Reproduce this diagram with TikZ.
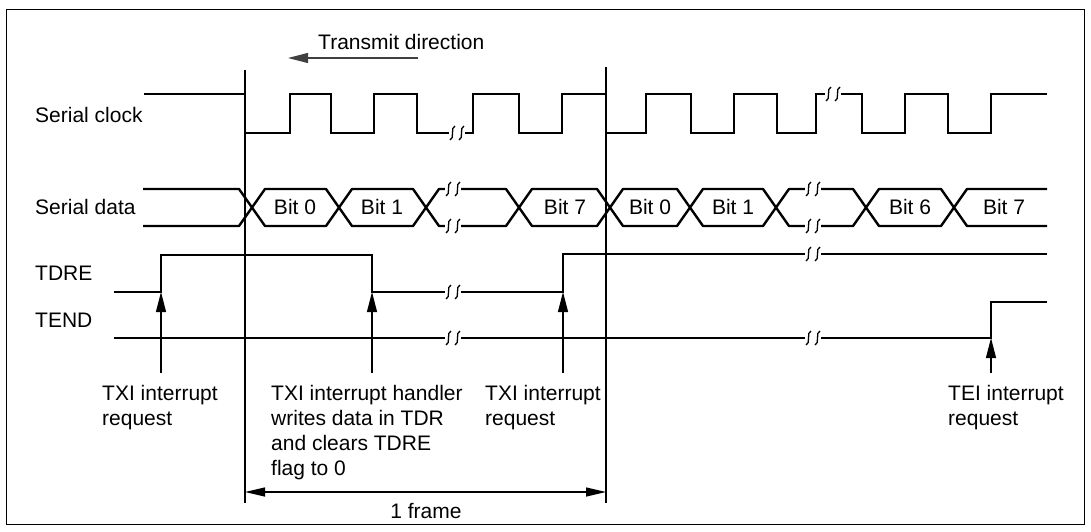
\documentclass[tikz,border=0pt]{standalone}
\usepackage{fontspec}
\setmainfont{Liberation Sans}
\usetikzlibrary{arrows.meta}

\tikzset{
  wave/.style={line width=2.4pt, line join=miter},
  datawave/.style={line width=2.4pt, line join=round},
  marker/.style={line width=1.1pt},
  pointer/.style={line width=1.2pt, -{Triangle[length=20pt,width=10pt]}},
  span/.style={line width=1.2pt, {Triangle[length=20pt,width=9pt]}-{Triangle[length=20pt,width=9pt]}},
  lbl/.style={font=\fontsize{21}{25}\selectfont, inner sep=0pt, anchor=west},
  note/.style={lbl, anchor=north west, align=left},
}
% break mark on a waveform
\newcommand{\cutmark}[2]{%
  \fill[white] (#1-8,#2-5) rectangle (#1+8,#2+5);
  \draw[line width=1.3pt] (#1-7,#2+7) .. controls (#1-2,#2+6) and (#1-7,#2-6) .. (#1-2,#2-7);
  \draw[line width=1.3pt] (#1+2,#2+7) .. controls (#1+7,#2+6) and (#1+2,#2-6) .. (#1+7,#2-7);
}

\begin{document}
\begin{tikzpicture}[x=1pt, y=-1pt]
  \useasboundingbox (0,0) rectangle (1091,532);
  \draw[line width=0.9pt] (6,9) rectangle (1084,524);

  % signal names
  \node[lbl] (clk) at (35,115) {Serial clock};
  \node[lbl] (dat) at (35,207) {Serial data};
  \node[lbl] (tdre) at (35,273) {TDRE};
  \node[lbl] (tend) at (35,320) {TEND};

  \node[lbl] (dir) at (318,42) {Transmit direction};
  \coordinate (dirtail) at (418,58);
  \coordinate (dirhead) at (288,58);
  \draw[pointer, black!75] (dirtail) -- (dirhead);

  % frame markers
  \coordinate (mla) at (245,70);
  \coordinate (mlb) at (245,503);
  \coordinate (mra) at (606,67);
  \coordinate (mrb) at (606,503);
  \draw[marker] (mla) -- (mlb);
  \draw[marker] (mra) -- (mrb);

  % serial clock
  \draw[wave] (144,94) foreach \f/\r in {245/290, 331/374, 417/473, 519/562, 606/646, 691/734, 777/816, 862/905, 948/991}
    { -- (\f,94) -- (\f,133) -- (\r,133) -- (\r,94) } -- (1047,94);

  % serial data
  \draw[datawave] (143,189) -- (239,189) -- (252,207.5);
  \draw[datawave] (143,226) -- (239,226) -- (252,207.5);
  \foreach \a/\b in {252/339, 339/426, 426/519, 519/610, 610/690, 690/776, 776/866, 866/954}
    \draw[datawave] (\a,207.5) -- (\a+13,189) -- (\b-13,189) -- (\b,207.5) -- (\b-13,226) -- (\a+13,226) -- cycle;
  \draw[datawave] (954,207.5) -- (967,189) -- (1047,189);
  \draw[datawave] (954,207.5) -- (967,226) -- (1047,226);

  \foreach \x/\t [count=\i] in {295/Bit 0, 382/Bit 1, 565/Bit 7, 650/Bit 0, 733/Bit 1, 910/Bit 6, 1004/Bit 7}
    \node[lbl, anchor=center] (bit\i) at (\x,207) {\t};

  % TDRE and TEND
  \draw[wave] (114,292) -- (161,292) -- (161,255) -- (372,255) -- (372,292) -- (563,292) -- (563,254) -- (1047,254);
  \draw[wave] (114,338) -- (991,338) -- (991,302) -- (1047,302);

  % breaks
  \cutmark{457}{133}
  \cutmark{833}{94}
  \foreach \y in {189,226,292,338} { \cutmark{453}{\y} }
  \foreach \y in {189,226,254,338} { \cutmark{813}{\y} }

  % notes and request arrows
  \node[note] (txia) at (102,385) {TXI interrupt\\request};
  \node[note] (hdl) at (271,385) {TXI interrupt handler\\writes data in TDR\\and clears TDRE\\flag to 0};
  \node[note] (txib) at (485,385) {TXI interrupt\\request};
  \node[note] (tei) at (948,385) {TEI interrupt\\request};

  \coordinate (pa) at (161,373);
  \coordinate (pb) at (372,373);
  \coordinate (pc) at (563,373);
  \coordinate (pd) at (991,373);
  \coordinate (qa) at (161,292);
  \coordinate (qb) at (372,292);
  \coordinate (qc) at (563,292);
  \coordinate (qd) at (991,338);
  \draw[pointer] (pa) -- (qa);
  \draw[pointer] (pb) -- (qb);
  \draw[pointer] (pc) -- (qc);
  \draw[pointer] (pd) -- (qd);

  % one frame
  \coordinate (fl) at (245,492);
  \coordinate (fr) at (606,492);
  \draw[span] (fl) -- (fr);
  \node[lbl, anchor=center] (frm) at (426,511) {1 frame};
\end{tikzpicture}
\end{document}
